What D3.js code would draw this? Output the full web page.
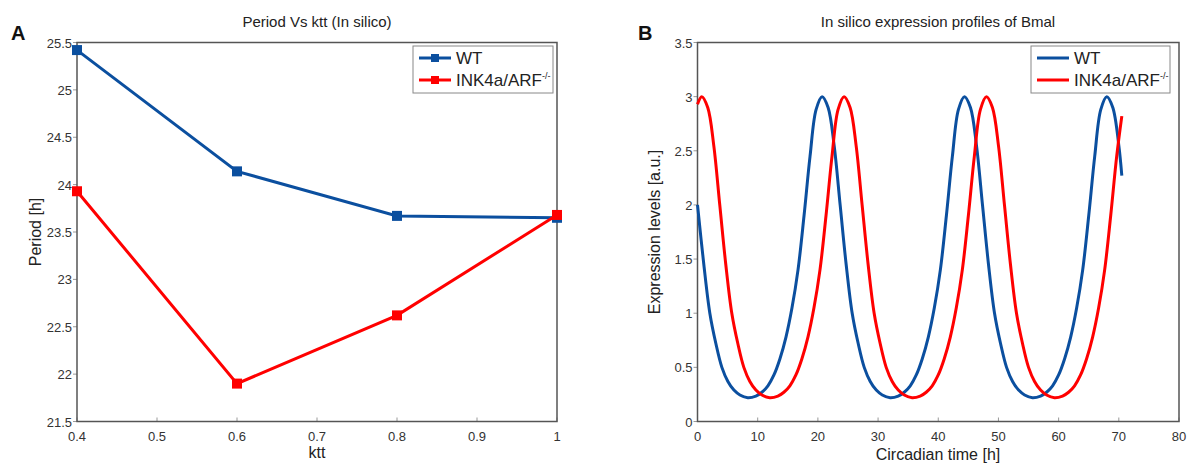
<!DOCTYPE html>
<html>
<head>
<meta charset="utf-8">
<script src="https://cdn.jsdelivr.net/npm/d3@7"></script>
<style>
  body { margin: 0; background: #fff; }
  svg { font-family: "Liberation Sans", Arial, sans-serif; }
</style>
</head>
<body>
<script>
// ---- panel A data: period vs ktt
const ktt = [0.4, 0.6, 0.8, 1.0];
const periodWT = [25.42, 24.14, 23.67, 23.65];
const periodINK = [23.93, 21.90, 22.62, 23.68];
const ticksA_x = [0.4, 0.5, 0.6, 0.7, 0.8, 0.9, 1];
const ticksA_y = [21.5, 22, 22.5, 23, 23.5, 24, 24.5, 25, 25.5];

// ---- panel B data: Bmal expression
const timeWT = [0, 1.05, 2.05, 3.05, 4.05, 5.05, 6.05, 7.05, 8.35,
  9.7, 10.7, 11.7, 12.7, 13.7, 14.7, 15.7, 16.7, 17.7, 18.7, 19.7, 20.7,
  21.7, 22.7, 23.7, 24.7, 25.7, 26.7, 27.7, 28.7, 29.7, 30.7, 32.0,
  33.35, 34.35, 35.35, 36.35, 37.35, 38.35, 39.35, 40.35, 41.35, 42.35, 43.35, 44.35,
  45.35, 46.35, 47.35, 48.35, 49.35, 50.35, 51.35, 52.35, 53.35, 54.35, 55.65,
  57.0, 58.0, 59.0, 60.0, 61.0, 62.0, 63.0, 64.0, 65.0, 66.0, 67.0, 68.0,
  69.0, 70.0, 70.5];
const exprWT = [2.0, 1.45, 1.0, 0.72, 0.5, 0.37, 0.29, 0.245, 0.22,
  0.235, 0.27, 0.33, 0.43, 0.58, 0.78, 1.05, 1.4, 1.9, 2.45, 2.88, 3.0,
  2.9, 2.55, 2.0, 1.45, 1.0, 0.72, 0.5, 0.37, 0.29, 0.245, 0.22,
  0.235, 0.27, 0.33, 0.43, 0.58, 0.78, 1.05, 1.4, 1.9, 2.45, 2.88, 3.0,
  2.9, 2.55, 2.0, 1.45, 1.0, 0.72, 0.5, 0.37, 0.29, 0.245, 0.22,
  0.235, 0.27, 0.33, 0.43, 0.58, 0.78, 1.05, 1.4, 1.9, 2.45, 2.88, 3.0,
  2.9, 2.55, 2.27];
const timeINK = [0, 0.7, 1.7, 2.7, 3.7, 4.7, 5.7, 6.7, 7.7, 8.7, 9.7, 10.7, 12.0,
  13.35, 14.35, 15.35, 16.35, 17.35, 18.35, 19.35, 20.35, 21.35, 22.35, 23.35, 24.35,
  25.35, 26.35, 27.35, 28.35, 29.35, 30.35, 31.35, 32.35, 33.35, 34.35, 35.65,
  37.0, 38.0, 39.0, 40.0, 41.0, 42.0, 43.0, 44.0, 45.0, 46.0, 47.0, 48.0,
  49.0, 50.0, 51.0, 52.0, 53.0, 54.0, 55.0, 56.0, 57.0, 58.0, 59.3,
  60.65, 61.65, 62.65, 63.65, 64.65, 65.65, 66.65, 67.65, 68.65, 69.65, 70.5];
const exprINK = [2.93, 3.0, 2.9, 2.55, 2.0, 1.45, 1.0, 0.72, 0.5, 0.37, 0.29, 0.245, 0.22,
  0.235, 0.27, 0.33, 0.43, 0.58, 0.78, 1.05, 1.4, 1.9, 2.45, 2.88, 3.0,
  2.9, 2.55, 2.0, 1.45, 1.0, 0.72, 0.5, 0.37, 0.29, 0.245, 0.22,
  0.235, 0.27, 0.33, 0.43, 0.58, 0.78, 1.05, 1.4, 1.9, 2.45, 2.88, 3.0,
  2.9, 2.55, 2.0, 1.45, 1.0, 0.72, 0.5, 0.37, 0.29, 0.245, 0.22,
  0.235, 0.27, 0.33, 0.43, 0.58, 0.78, 1.05, 1.4, 1.9, 2.45, 2.82];
const ticksB_x = [0, 10, 20, 30, 40, 50, 60, 70, 80];
const ticksB_y = [0, 0.5, 1, 1.5, 2, 2.5, 3, 3.5];

const seriesNames = ["WT", "INK4a/ARF"];
const blue = "#0b4f9f";
const red = "#ff0000";
const axisColor = "#555";
const textColor = "#333";

const svg = d3.select("body").append("svg")
  .attr("width", 1191)
  .attr("height", 464);

// draws the matlab-style box, ticks and labels for one panel
function drawFrame(g, x, y, xt, yt) {
  const [x0, x1] = x.range();
  const [y0, y1] = y.range();

  g.selectAll(".xt").data(xt).enter().append("line")
    .attr("x1", d => x(d)).attr("x2", d => x(d))
    .attr("y1", y0).attr("y2", y0 - 4)
    .attr("stroke", "#999").attr("stroke-width", 1);
  g.selectAll(".yt").data(yt).enter().append("line")
    .attr("x1", x0 - 4).attr("x2", x0)
    .attr("y1", d => y(d)).attr("y2", d => y(d))
    .attr("stroke", "#999").attr("stroke-width", 1);

  g.selectAll(".xl").data(xt).enter().append("text")
    .attr("x", d => x(d)).attr("y", y0 + 19)
    .attr("text-anchor", "middle")
    .attr("font-size", 13).attr("fill", textColor)
    .text(d => d);
  g.selectAll(".yl").data(yt).enter().append("text")
    .attr("x", x0 - 5).attr("y", d => y(d) + 5)
    .attr("text-anchor", "end")
    .attr("font-size", 13).attr("fill", textColor)
    .text(d => d);

  g.append("rect")
    .attr("x", x0).attr("y", y1)
    .attr("width", x1 - x0).attr("height", y0 - y1)
    .attr("fill", "none").attr("stroke", axisColor).attr("stroke-width", 1.5);
}

function drawLegend(g, left, top, width, withMarker, colors) {
  g.append("rect")
    .attr("x", left).attr("y", top)
    .attr("width", width).attr("height", 47)
    .attr("fill", "#fff").attr("stroke", "#888").attr("stroke-width", 1);
  seriesNames.forEach((name, i) => {
    const cy = top + 12 + i * 22;
    g.append("line")
      .attr("x1", left + 6).attr("x2", left + 38)
      .attr("y1", cy).attr("y2", cy)
      .attr("stroke", colors[i]).attr("stroke-width", 3);
    if (withMarker) {
      g.append("rect")
        .attr("x", left + 22 - 4).attr("y", cy - 4)
        .attr("width", 8).attr("height", 8)
        .attr("fill", colors[i]);
    }
    const t = g.append("text")
      .attr("x", left + 43).attr("y", cy + 6)
      .attr("font-size", 17).attr("fill", "#222")
      .text(name);
    if (i == 1) {
      t.append("tspan").attr("dy", -7).attr("font-size", 9).text("-/-");
    }
  });
}

// ---------- Panel A
const xA = d3.scaleLinear().domain([0.4, 1]).range([77, 557]);
const yA = d3.scaleLinear().domain([21.5, 25.5]).range([421.5, 42.5]);
const gA = svg.append("g");

drawFrame(gA, xA, yA, ticksA_x, ticksA_y);

const lineA = d3.line().x(d => xA(d[0])).y(d => yA(d[1]));
[[periodWT, blue], [periodINK, red]].forEach(([vals, col]) => {
  const pts = ktt.map((k, i) => [k, vals[i]]);
  gA.append("path").datum(pts)
    .attr("d", lineA)
    .attr("fill", "none").attr("stroke", col).attr("stroke-width", 3);
  gA.selectAll(null).data(pts).enter().append("rect")
    .attr("x", d => xA(d[0]) - 5).attr("y", d => yA(d[1]) - 5)
    .attr("width", 10).attr("height", 10)
    .attr("fill", col);
});

drawLegend(gA, 413, 46, 140, true, [blue, red]);

gA.append("text").attr("x", 317).attr("y", 27)
  .attr("text-anchor", "middle").attr("font-size", 15).attr("fill", "#222")
  .text("Period Vs ktt (In silico)");
gA.append("text").attr("x", 317).attr("y", 458)
  .attr("text-anchor", "middle").attr("font-size", 16).attr("fill", "#222")
  .text("ktt");
gA.append("text").attr("transform", "translate(41,232) rotate(-90)")
  .attr("text-anchor", "middle").attr("font-size", 16).attr("fill", "#222")
  .text("Period [h]");
gA.append("text").attr("x", 11).attr("y", 40)
  .attr("font-size", 20).attr("font-weight", "bold").attr("fill", "#111")
  .text("A");

// ---------- Panel B
const xB = d3.scaleLinear().domain([0, 80]).range([697.5, 1179]);
const yB = d3.scaleLinear().domain([0, 3.5]).range([421.5, 42.5]);
const gB = svg.append("g");

drawFrame(gB, xB, yB, ticksB_x, ticksB_y);

const lineB = d3.line().x(d => xB(d[0])).y(d => yB(d[1])).curve(d3.curveCatmullRom.alpha(0.5));
[[timeWT, exprWT, blue], [timeINK, exprINK, red]].forEach(([ts, vs, col]) => {
  gB.append("path").datum(ts.map((t, i) => [t, vs[i]]))
    .attr("d", lineB)
    .attr("fill", "none").attr("stroke", col).attr("stroke-width", 3);
});

drawLegend(gB, 1031, 46, 139, false, [blue, red]);

gB.append("text").attr("x", 938).attr("y", 27)
  .attr("text-anchor", "middle").attr("font-size", 15).attr("fill", "#222")
  .text("In silico expression profiles of Bmal");
gB.append("text").attr("x", 938).attr("y", 460)
  .attr("text-anchor", "middle").attr("font-size", 16).attr("fill", "#222")
  .text("Circadian time [h]");
gB.append("text").attr("transform", "translate(660,232) rotate(-90)")
  .attr("text-anchor", "middle").attr("font-size", 16).attr("fill", "#222")
  .text("Expression levels [a.u.]");
gB.append("text").attr("x", 638).attr("y", 40)
  .attr("font-size", 20).attr("font-weight", "bold").attr("fill", "#111")
  .text("B");
</script>
</body>
</html>
